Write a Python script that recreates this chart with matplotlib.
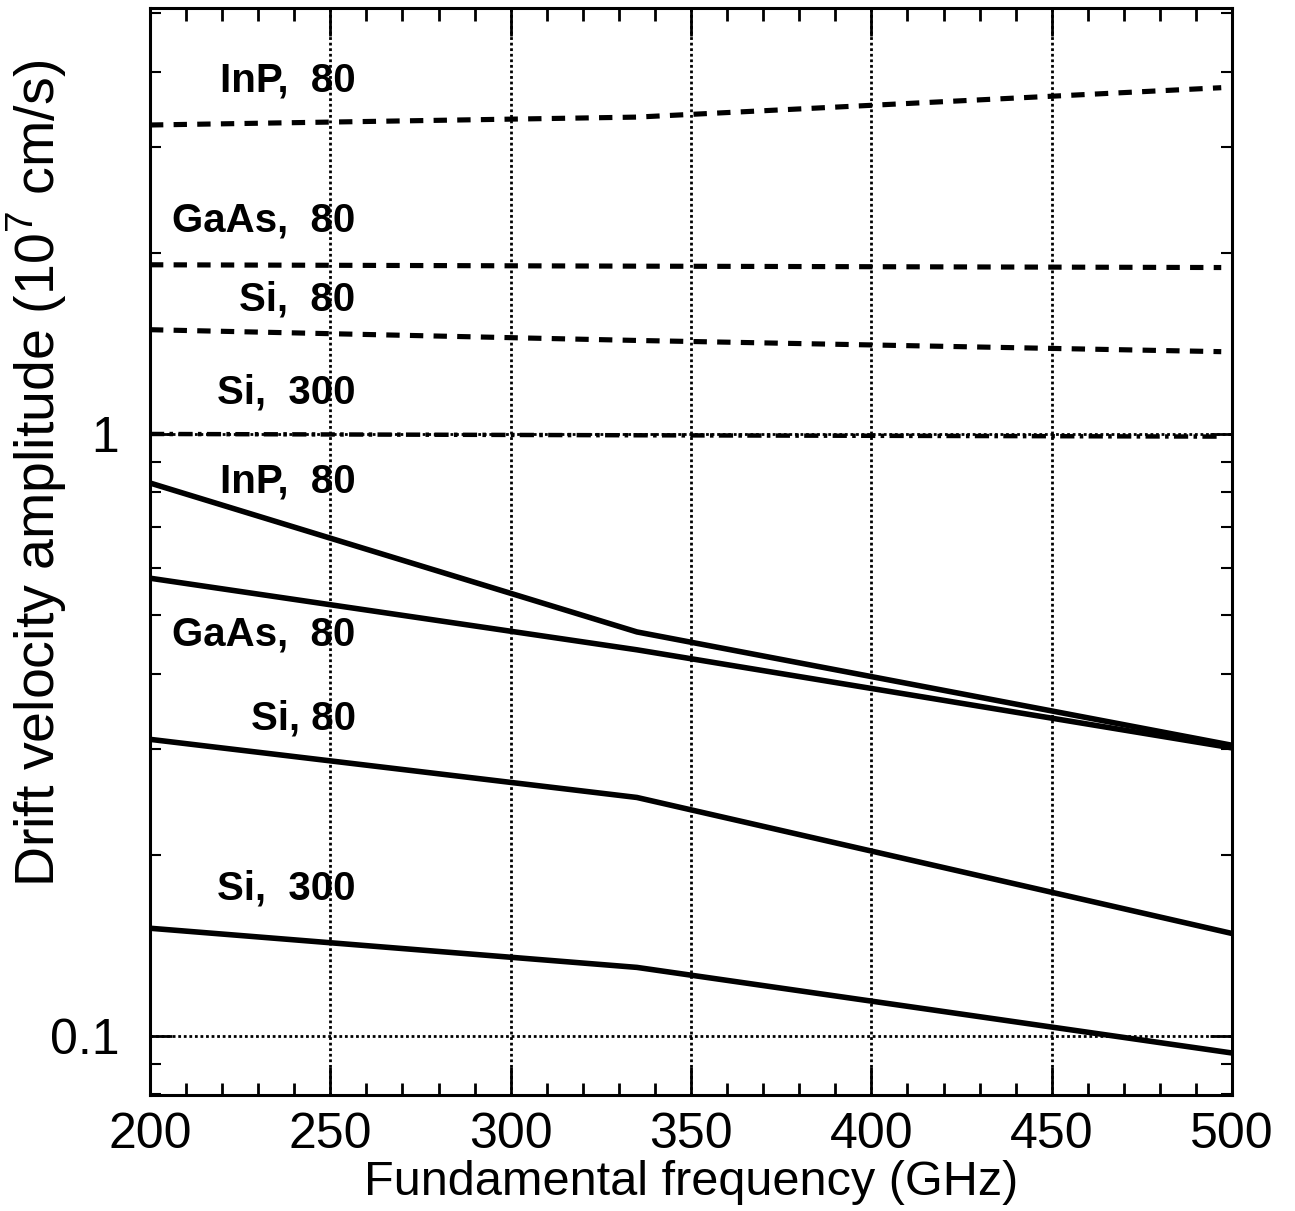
import numpy as np
import matplotlib.pyplot as plt
from matplotlib.ticker import MultipleLocator, LogLocator, NullFormatter, FixedLocator, FixedFormatter

plt.rcParams['font.family'] = ['Liberation Sans', 'DejaVu Sans']
plt.rcParams['mathtext.fontset'] = 'custom'
plt.rcParams['mathtext.rm'] = 'Liberation Sans'

# fundamental frequency (GHz)
f_dash = [200, 335, 497]
f_solid = [200, 335, 500]

# dashed / dash-dot curves (upper group)
inp80_a = [3.26, 3.36, 3.76]
gaas80_a = [1.91, 1.90, 1.89]
si80_a = [1.49, 1.43, 1.37]
si300_a = [1.00, 0.995, 0.99]

# solid curves (lower group)
inp80_b = [0.829, 0.469, 0.304]
gaas80_b = [0.576, 0.438, 0.301]
si80_b = [0.311, 0.249, 0.148]
si300_b = [0.151, 0.130, 0.0937]

label_text = ["InP,  80", "GaAs,  80", "Si,  80", "Si,  300",
              "InP,  80", "GaAs,  80", "Si, 80", "Si,  300"]
label_y = [3.87, 2.26, 1.67, 1.17, 0.835, 0.465, 0.337, 0.1755]

fig = plt.figure(figsize=(12.95, 12.11), dpi=100)
ax = fig.add_axes([0.1158, 0.0958, 0.8356, 0.8976])

ax.set_yscale('log')
ax.set_xlim(200, 500)
ax.set_ylim(0.0798, 5.1)

# grid at major ticks
for xv in [250, 300, 350, 400, 450]:
    ax.axvline(xv, color='black', lw=2, ls=(0, (1, 1)), zorder=1)
for yv in [0.1, 1]:
    ax.axhline(yv, color='black', lw=2, ls=(0, (1, 1)), zorder=1)

dash = (0, (2.6, 2.0))
ax.plot(f_dash, inp80_a, color='black', lw=3.7, ls=dash)
ax.plot(f_dash, gaas80_a, color='black', lw=3.7, ls=dash)
ax.plot(f_dash, si80_a, color='black', lw=3.7, ls=dash)
ax.plot(f_dash, si300_a, color='black', lw=3.2, ls=(0, (3.2, 1.2, 0.8, 1.2)))

for ys in [inp80_b, gaas80_b, si80_b, si300_b]:
    ax.plot(f_solid, ys, color='black', lw=4, solid_capstyle='butt')

for t, yv in zip(label_text, label_y):
    ax.text(257, yv, t, ha='right', va='center', fontsize=29,
            fontweight='bold', color='black')

ax.xaxis.set_major_locator(MultipleLocator(50))
ax.xaxis.set_minor_locator(MultipleLocator(10))
ax.yaxis.set_major_locator(FixedLocator([0.1, 1]))
ax.yaxis.set_major_formatter(FixedFormatter(['0.1', '1']))
ax.yaxis.set_minor_locator(LogLocator(base=10, subs=np.arange(2, 10)))
ax.yaxis.set_minor_formatter(NullFormatter())

ax.tick_params(which='both', direction='in', top=True, right=True, colors='black')
ax.tick_params(axis='x', which='major', length=20, width=2, labelsize=36, pad=12)
ax.tick_params(axis='x', which='minor', length=9, width=2)
ax.tick_params(axis='y', which='major', length=16, width=2, labelsize=36, pad=22)
ax.tick_params(axis='y', which='minor', length=8, width=1.5)
for s in ax.spines.values():
    s.set_linewidth(2.2)

ax.set_xlabel('Fundamental frequency (GHz)', fontsize=35, labelpad=2)
ax.set_ylabel('Drift velocity amplitude (10$^{7}$ cm/s)', fontsize=40)
ax.yaxis.set_label_coords(-0.075, 0.572)

fig.savefig('out.png', dpi=100)
